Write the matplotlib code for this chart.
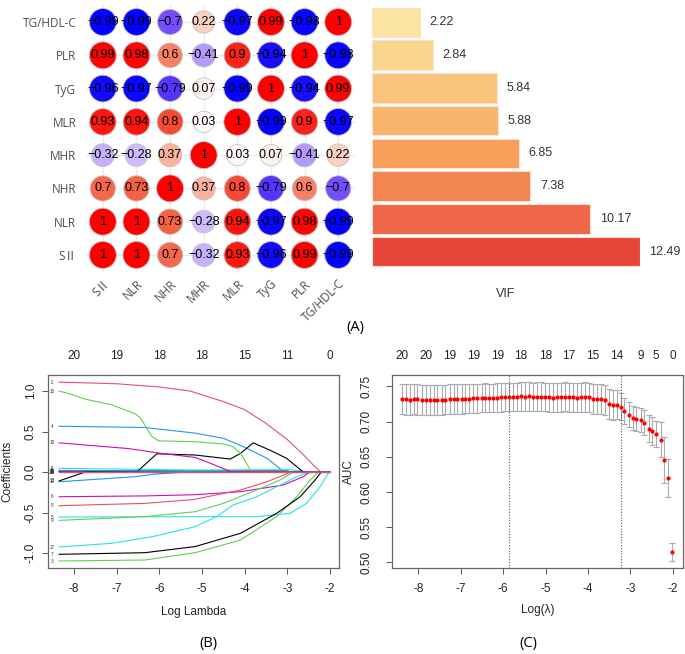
import numpy as np
import matplotlib.pyplot as plt
from matplotlib.colors import LinearSegmentedColormap

plt.rcParams['font.family'] = ['Liberation Sans', 'DejaVu Sans']
plt.rcParams['axes.unicode_minus'] = False

W, H = 685, 654

# ---------------- (A) correlation + VIF ----------------
corr_vars = ["SⅡ", "NLR", "NHR", "MHR", "MLR", "TyG", "PLR", "TG/HDL-C"]
# rows in the same order as corr_vars (bottom row = SII)
corr_sii = [1, 1, 0.7, -0.32, 0.93, -0.96, 0.99, -0.99]
corr_nlr = [1, 1, 0.73, -0.28, 0.94, -0.97, 0.98, -0.99]
corr_nhr = [0.7, 0.73, 1, 0.37, 0.8, -0.79, 0.6, -0.7]
corr_mhr = [-0.32, -0.28, 0.37, 1, 0.03, 0.07, -0.41, 0.22]
corr_mlr = [0.93, 0.94, 0.8, 0.03, 1, -0.99, 0.9, -0.97]
corr_tyg = [-0.96, -0.97, -0.79, 0.07, -0.99, 1, -0.94, 0.99]
corr_plr = [0.99, 0.98, 0.6, -0.41, 0.9, -0.94, 1, -0.98]
corr_tghdl = [-0.99, -0.99, -0.7, 0.22, -0.97, 0.99, -0.98, 1]
vif_vals = [12.49, 10.17, 7.38, 6.85, 5.88, 5.84, 2.84, 2.22]

# ---------------- (B) lasso coefficient paths (log lambda, coef) ----------------
coef_v1 = [(-8.35, 0.012), (-3.0, 0.012), (-2.9, 0.0), (-2.0, 0.0)]
coef_v2 = [(-8.35, 1.11), (-7.0, 1.09), (-6.0, 1.05), (-5.28, 1.0), (-4.5, 0.87), (-4.0, 0.77),
           (-3.5, 0.6), (-3.0, 0.40), (-2.6, 0.2), (-2.4, 0.09), (-2.22, 0.0), (-2.0, 0.0)]
coef_v3 = [(-8.35, -1.099), (-6.34, -1.086), (-5.16, -0.996), (-4.1, -0.84), (-3.25, -0.55),
           (-2.78, -0.305), (-2.47, -0.099), (-2.27, 0.0), (-2.0, 0.0)]
coef_v4 = [(-8.35, 0.565), (-6.34, 0.55), (-5.16, 0.48), (-4.5, 0.416), (-4.03, 0.313),
           (-3.48, 0.17), (-3.13, 0.025), (-3.08, 0.0), (-2.0, 0.0)]
coef_v5 = [(-8.35, -0.556), (-5.16, -0.551), (-3.72, -0.551), (-2.94, -0.51), (-2.55, -0.387),
           (-2.23, -0.18), (-2.04, -0.016), (-2.0, 0.0)]
coef_v6 = [(-8.35, -0.305), (-6.34, -0.295), (-5.16, -0.28), (-4.1, -0.243), (-3.09, -0.16),
           (-2.63, -0.058), (-2.47, 0.0), (-2.0, 0.0)]
coef_v7 = [(-8.35, -1.016), (-6.34, -0.996), (-5.16, -0.92), (-4.1, -0.757), (-3.25, -0.51),
           (-2.7, -0.305), (-2.35, -0.099), (-2.23, -0.016), (-2.2, 0.0), (-2.0, 0.0)]
coef_v8 = [(-8.35, -0.416), (-6.34, -0.387), (-5.2, -0.34), (-4.1, -0.222), (-3.48, -0.12),
           (-3.02, -0.025), (-2.94, 0.0), (-2.0, 0.0)]
coef_v9 = [(-8.35, -0.597), (-6.34, -0.55), (-5.16, -0.49), (-4.5, -0.387), (-3.72, -0.222),
           (-3.17, -0.099), (-2.86, 0.0), (-2.0, 0.0)]
coef_v10 = [(-8.35, -0.12), (-6.57, -0.058), (-6.1, -0.025), (-5.5, -0.005), (-5.0, 0.0), (-2.0, 0.0)]
coef_v11 = [(-8.35, 0.045), (-6.34, 0.033), (-5.16, 0.025), (-2.94, 0.03), (-2.47, 0.0), (-2.0, 0.0)]
coef_v12 = [(-8.35, 0.004), (-4.5, 0.0), (-2.0, 0.0)]
coef_v13 = [(-8.35, -0.11), (-7.74, 0.0), (-6.53, 0.0), (-6.06, 0.225), (-5.16, 0.21), (-4.34, 0.16),
            (-4.1, 0.23), (-3.8, 0.36), (-3.41, 0.27), (-3.02, 0.17), (-2.78, 0.066), (-2.63, 0.0),
            (-2.0, 0.0)]
coef_v14 = [(-8.35, 0.0), (-2.0, 0.0)]
coef_v15 = [(-8.35, 1.00), (-8.0, 0.95), (-7.74, 0.90), (-7.12, 0.83), (-6.57, 0.72), (-6.45, 0.67),
            (-6.34, 0.58), (-6.18, 0.44), (-6.02, 0.385), (-5.16, 0.374), (-4.5, 0.346),
            (-4.27, 0.313), (-4.07, 0.21), (-3.84, 0.0), (-2.0, 0.0)]
coef_v16 = [(-8.35, 0.02), (-6.0, 0.01), (-4.0, 0.0), (-2.0, 0.0)]
coef_v17 = [(-8.35, -0.926), (-7.12, -0.88), (-6.18, -0.80), (-5.16, -0.675), (-4.66, -0.55),
            (-4.27, -0.407), (-3.72, -0.305), (-3.17, -0.16), (-2.78, -0.058), (-2.5, 0.0), (-2.0, 0.0)]
coef_v18 = [(-8.35, 0.36), (-6.73, 0.29), (-5.95, 0.23), (-5.16, 0.18), (-4.8, 0.107), (-4.3, 0.0),
            (-2.0, 0.0)]
coef_v19 = [(-8.35, 0.0), (-2.2, 0.0), (-2.0, 0.0)]
coef_v20 = [(-8.35, 0.0), (-2.0, 0.0)]
b_top_pos = [-8, -7, -6, -5, -4, -3, -2]
b_top_lab = ["20", "19", "18", "18", "15", "11", "0"]

# ---------------- (C) cross-validated AUC ----------------
lam_c = [-8.39, -8.30, -8.20, -8.11, -8.02, -7.92, -7.83, -7.73, -7.64, -7.55, -7.45, -7.36,
         -7.26, -7.17, -7.08, -6.98, -6.89, -6.80, -6.70, -6.61, -6.51, -6.42,
         -6.33, -6.23, -6.14, -6.04, -5.95,
         -5.86, -5.76, -5.67, -5.58, -5.48, -5.39, -5.29, -5.20, -5.11, -5.01, -4.92, -4.82,
         -4.73, -4.64, -4.54, -4.45, -4.36, -4.26, -4.17, -4.07,
         -3.98, -3.89, -3.79, -3.70, -3.61,
         -3.51, -3.42, -3.32, -3.23, -3.14, -3.04, -2.95, -2.86, -2.76, -2.67, -2.57, -2.48,
         -2.39, -2.29, -2.20, -2.11, -2.01]
auc_c = [0.7318, 0.7316, 0.7314, 0.7318, 0.7316, 0.7312, 0.7312, 0.7310, 0.7312, 0.7308, 0.7310, 0.7314,
         0.7318, 0.7320, 0.7322, 0.7322, 0.7326, 0.7326, 0.7330, 0.7330, 0.7334, 0.7340,
         0.7336, 0.7336, 0.7342, 0.7344, 0.7350,
         0.7356, 0.7356, 0.7352, 0.7358, 0.7356, 0.7358, 0.7352, 0.7354, 0.7354, 0.7352, 0.7344, 0.7340,
         0.7348, 0.7346, 0.7352, 0.7346, 0.7348, 0.7340, 0.7348, 0.7350,
         0.7346, 0.7318, 0.7318, 0.7316, 0.7302,
         0.7256, 0.7233, 0.7241, 0.7213, 0.7148, 0.7100, 0.7048, 0.7038, 0.7028, 0.6986, 0.6900, 0.6868,
         0.6830, 0.6744, 0.6456, 0.6205, 0.5145]
sd_c = [0.0216, 0.0216, 0.0215, 0.0215, 0.0215, 0.0214, 0.0214, 0.0213, 0.0213, 0.0212, 0.0212, 0.0211,
        0.0210, 0.0210, 0.0209, 0.0208, 0.0208, 0.0207, 0.0206, 0.0205, 0.0204, 0.0204,
        0.0203, 0.0202, 0.0201, 0.0200, 0.0200,
        0.0199, 0.0200, 0.0200, 0.0201, 0.0201, 0.0202, 0.0202, 0.0203, 0.0203, 0.0204, 0.0204, 0.0205,
        0.0205, 0.0206, 0.0206, 0.0207, 0.0207, 0.0208, 0.0208, 0.0209,
        0.0210, 0.0210, 0.0211, 0.0212, 0.0212,
        0.0213, 0.0210, 0.0205, 0.0194, 0.0182, 0.0174, 0.0170, 0.0166, 0.0172, 0.0183, 0.0188, 0.0194,
        0.0185, 0.0253, 0.0324, 0.0270, 0.0126]
lam_min = -5.86
lam_1se = -3.23
c_top_pos = [-8.39, -7.83, -7.26, -6.70, -6.14, -5.58, -5.01, -4.45, -3.89, -3.32, -2.76, -2.39, -2.01]
c_top_lab = ["20", "20", "19", "19", "19", "18", "18", "17", "15", "14", "9", "5", "0"]


fig = plt.figure(figsize=(W / 100, H / 100), dpi=100)


def px_axes(x0, y0, x1, y1):
    # pixel box (from top-left) -> figure axes
    return fig.add_axes([x0 / W, 1 - y1 / H, (x1 - x0) / W, (y1 - y0) / H])


fam_a = ['Open Sans', 'Noto Sans CJK SC', 'DejaVu Sans']

# --- correlation circles
corr_cmap = LinearSegmentedColormap.from_list(
    "corr", ["#0000FF", "#6A40FA", "#A384FC", "#D3C2FD", "#FFFFFF",
             "#FBCBBD", "#F8987E", "#F35E42", "#FF0000"])
corr_mat = np.array([corr_sii, corr_nlr, corr_nhr, corr_mhr, corr_mlr, corr_tyg, corr_plr, corr_tghdl])
n = len(corr_vars)

ax_a = px_axes(86, 5.4, 355, 271.6)
yy, xx = np.meshgrid(np.arange(1, n + 1), np.arange(1, n + 1), indexing="ij")
vals = corr_mat.ravel()
diam_pt = (21 + 6 * np.abs(vals)) * 0.72
ax_a.scatter(xx.ravel(), yy.ravel(), s=diam_pt ** 2, c=(vals + 1) / 2, cmap=corr_cmap,
             vmin=0, vmax=1, edgecolors="#c4c4c4", linewidths=0.6, zorder=2)
for x, y, v in zip(xx.ravel(), yy.ravel(), vals):
    ax_a.text(x, y, f"{v:g}".replace("-", "\u2212"), ha="center", va="center",
              fontsize=9, color="black", zorder=3)
ax_a.set_xlim(0.5, n + 0.5)
ax_a.set_ylim(0.5, n + 0.5)
ax_a.set_xticks(range(1, n + 1))
ax_a.set_yticks(range(1, n + 1))
ax_a.set_xticklabels(corr_vars, rotation=45, ha="right", va="top", rotation_mode="anchor",
                     family=fam_a, fontsize=8.5, color="#4d4d4d")
ax_a.set_yticklabels(corr_vars, family=fam_a, fontsize=8.5, color="#4d4d4d")
ax_a.tick_params(axis="both", length=0)
ax_a.tick_params(axis="y", pad=7)
ax_a.tick_params(axis="x", pad=4)
ax_a.grid(True, color="#ebebeb", lw=1.0)
ax_a.set_axisbelow(True)
for s in ax_a.spines.values():
    s.set_visible(False)

# --- VIF bars
vif_cmap = LinearSegmentedColormap.from_list(
    "vif", ["#F9E5A1", "#F9D68E", "#F9C57C", "#F8B46A", "#F69E5A", "#F28551", "#EF6748", "#E8453A"])
rank = np.argsort(np.argsort(vif_vals))
ax_v = px_axes(372, 6.1, 640, 267.9)
ax_v.barh(np.arange(1, n + 1), vif_vals, height=0.9, color=vif_cmap(rank / (n - 1)),
          edgecolor="#fbe0d2", linewidth=0.8)
for i, v in enumerate(vif_vals):
    ax_v.text(v + 0.45, i + 1, f"{v:.2f}", ha="left", va="center", fontsize=9,
              color="#333333", clip_on=False)
ax_v.set_xlim(0, 12.5)
ax_v.set_ylim(0.5, n + 0.5)
ax_v.set_xticks([])
ax_v.set_yticks([])
for s in ax_v.spines.values():
    s.set_visible(False)
ax_v.set_xlabel("VIF", fontsize=9, color="#333333")
ax_v.xaxis.set_label_coords(0.5, -0.077)

fig.text(355 / W, 1 - 327 / H, "(A)", ha="center", va="center", fontsize=10.5, family=fam_a)

# ---------------- (B)
r_cols = ["black", "#DF536B", "#61D04F", "#2297E6", "#28E2E5", "#CD0BBC"]
coef_paths = [coef_v1, coef_v2, coef_v3, coef_v4, coef_v5, coef_v6, coef_v7, coef_v8, coef_v9,
              coef_v10, coef_v11, coef_v12, coef_v13, coef_v14, coef_v15, coef_v16, coef_v17,
              coef_v18, coef_v19, coef_v20]

ax_b = px_axes(48, 375, 339, 568)
for k, path in enumerate(coef_paths):
    xs, ys = zip(*path)
    ax_b.plot(xs, ys, color=r_cols[k % 6], lw=0.8)
    ax_b.text(-8.52, ys[0], str(k + 1), fontsize=3.3, ha="center", va="center", color="#333333")
ax_b.set_xlim(-8.61, -1.79)
ax_b.set_ylim(-1.185, 1.198)
ax_b.set_xticks([-8, -7, -6, -5, -4, -3, -2])
ax_b.set_yticks([-1.0, -0.5, 0.0, 0.5, 1.0])
ax_b.tick_params(axis="both", length=4, width=0.7, labelsize=8.5, color="#555555", labelcolor="#222222")
ax_b.tick_params(axis="x", pad=6.5)
ax_b.tick_params(axis="y", pad=4, labelrotation=90)
for lab in ax_b.get_yticklabels():
    lab.set_va("center")
for s in ax_b.spines.values():
    s.set_color("#666666")
    s.set_linewidth(0.9)
top_b = ax_b.secondary_xaxis("top")
top_b.set_xticks(b_top_pos, b_top_lab)
top_b.tick_params(length=0, pad=9, labelsize=8.5, labelcolor="#222222")
top_b.spines["top"].set_visible(False)
ax_b.set_xlabel("Log Lambda", fontsize=8.5, color="#222222")
ax_b.xaxis.set_label_coords(0.5, -0.197)
ax_b.set_ylabel("Coefficients", fontsize=8.5, color="#222222")
ax_b.yaxis.set_label_coords(-0.12, 0.5)

fig.text(208 / W, 1 - 643 / H, "(B)", ha="center", va="center", fontsize=10.5, family=fam_a)

# ---------------- (C)
ax_c = px_axes(392, 375, 683, 568)
ax_c.errorbar(lam_c, auc_c, yerr=sd_c, fmt="none", ecolor="#ababab", elinewidth=0.8,
              capsize=2.2, capthick=0.8)
ax_c.plot(lam_c, auc_c, "o", color="red", ms=3.0, mec="red", mew=0)
ax_c.axvline(lam_min, color="#555555", lw=0.8, ls=(0, (1, 1.5)))
ax_c.axvline(lam_1se, color="#555555", lw=0.8, ls=(0, (1, 1.5)))
ax_c.set_xlim(-8.62, -1.76)
ax_c.set_ylim(0.4919, 0.7663)
ax_c.set_xticks([-8, -7, -6, -5, -4, -3, -2])
ax_c.set_yticks([0.50, 0.55, 0.60, 0.65, 0.70, 0.75])
ax_c.set_yticklabels(["0.50", "0.55", "0.60", "0.65", "0.70", "0.75"])
ax_c.tick_params(axis="both", length=4, width=0.7, labelsize=8.5, color="#555555", labelcolor="#222222")
ax_c.tick_params(axis="x", pad=6.5)
ax_c.tick_params(axis="y", pad=10, labelrotation=90)
for lab in ax_c.get_yticklabels():
    lab.set_va("center")
for s in ax_c.spines.values():
    s.set_color("#666666")
    s.set_linewidth(0.9)
top_c = ax_c.secondary_xaxis("top")
top_c.set_xticks(c_top_pos, c_top_lab)
top_c.tick_params(length=0, pad=9, labelsize=8.5, labelcolor="#222222")
top_c.spines["top"].set_visible(False)
ax_c.set_xlabel("Log(λ)", fontsize=8.5, color="#222222")
ax_c.xaxis.set_label_coords(0.5, -0.187)
ax_c.set_ylabel("AUC", fontsize=8.5, color="#222222")
ax_c.yaxis.set_label_coords(-0.127, 0.5)

fig.text(528 / W, 1 - 643 / H, "(C)", ha="center", va="center", fontsize=10.5, family=fam_a)

fig.savefig("out.png", dpi=100)
